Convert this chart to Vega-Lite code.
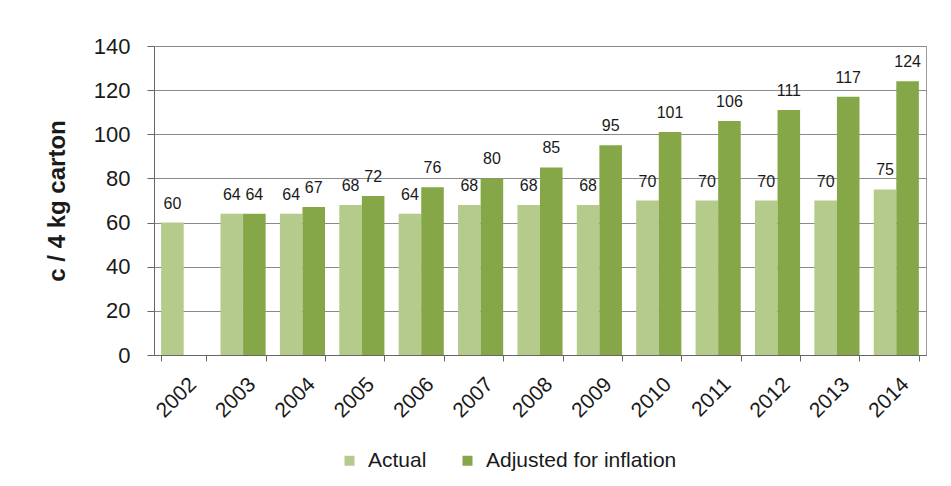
{
  "$schema": "https://vega.github.io/schema/vega-lite/v6.json",
  "width": 772,
  "height": 309,
  "autosize": "none",
  "padding": {"left": 154, "top": 46, "right": 25, "bottom": 131},
  "background": "white",
  "config": {
    "font": "Liberation Sans",
    "view": {"stroke": "#9a9a9a", "strokeWidth": 1}
  },
  "data": {
    "values": [
      {"year": "2002", "series": "Actual", "value": 60},
      {"year": "2003", "series": "Actual", "value": 64},
      {"year": "2003", "series": "Adjusted for inflation", "value": 64},
      {"year": "2004", "series": "Actual", "value": 64},
      {"year": "2004", "series": "Adjusted for inflation", "value": 67},
      {"year": "2005", "series": "Actual", "value": 68},
      {"year": "2005", "series": "Adjusted for inflation", "value": 72},
      {"year": "2006", "series": "Actual", "value": 64},
      {"year": "2006", "series": "Adjusted for inflation", "value": 76},
      {"year": "2007", "series": "Actual", "value": 68},
      {"year": "2007", "series": "Adjusted for inflation", "value": 80},
      {"year": "2008", "series": "Actual", "value": 68},
      {"year": "2008", "series": "Adjusted for inflation", "value": 85},
      {"year": "2009", "series": "Actual", "value": 68},
      {"year": "2009", "series": "Adjusted for inflation", "value": 95},
      {"year": "2010", "series": "Actual", "value": 70},
      {"year": "2010", "series": "Adjusted for inflation", "value": 101},
      {"year": "2011", "series": "Actual", "value": 70},
      {"year": "2011", "series": "Adjusted for inflation", "value": 106},
      {"year": "2012", "series": "Actual", "value": 70},
      {"year": "2012", "series": "Adjusted for inflation", "value": 111},
      {"year": "2013", "series": "Actual", "value": 70},
      {"year": "2013", "series": "Adjusted for inflation", "value": 117},
      {"year": "2014", "series": "Actual", "value": 75},
      {"year": "2014", "series": "Adjusted for inflation", "value": 124}
    ]
  },
  "encoding": {
    "x": {
      "field": "year",
      "type": "ordinal",
      "scale": {"paddingInner": 0.24, "paddingOuter": 0.12},
      "axis": {
        "title": null,
        "labelAngle": -45,
        "labelAlign": "right",
        "labelBaseline": "middle",
        "labelFontSize": 21,
        "labelColor": "#1a1a1a",
        "labelPadding": 20,
        "labelOffset": 9,
        "tickBand": "extent",
        "tickSize": 6,
        "tickColor": "#666",
        "domainColor": "#666",
        "grid": false
      }
    },
    "xOffset": {"field": "series", "type": "nominal", "sort": ["Actual", "Adjusted for inflation"]},
    "y": {
      "field": "value",
      "type": "quantitative",
      "scale": {"domain": [0, 140], "nice": false},
      "axis": {
        "title": "c / 4 kg carton",
        "titleFontSize": 24,
        "titleFontWeight": "bold",
        "titleColor": "#1a1a1a",
        "titlePadding": 24,
        "values": [0, 20, 40, 60, 80, 100, 120, 140],
        "labelFontSize": 22,
        "labelColor": "#1a1a1a",
        "labelPadding": 17,
        "tickSize": 7,
        "tickColor": "#666",
        "domainColor": "#666",
        "gridColor": "#8a8a8a",
        "gridWidth": 1
      }
    }
  },
  "layer": [
    {
      "mark": {"type": "bar"},
      "encoding": {
        "color": {
          "field": "series",
          "type": "nominal",
          "sort": ["Actual", "Adjusted for inflation"],
          "scale": {"domain": ["Actual", "Adjusted for inflation"], "range": ["#b5cb8c", "#86a747"]},
          "legend": {
            "title": null,
            "orient": "none",
            "legendX": 185,
            "legendY": 404,
            "direction": "horizontal",
            "symbolType": "square",
            "symbolSize": 100,
            "symbolStrokeWidth": 0,
            "labelFontSize": 21,
            "labelLimit": 400,
            "labelColor": "#1a1a1a",
            "labelOffset": 8,
            "columnPadding": 30
          }
        }
      }
    },
    {
      "mark": {"type": "text", "dy": -14, "baseline": "alphabetic", "fontSize": 16, "color": "#1a1a1a"},
      "encoding": {"text": {"field": "value", "type": "quantitative"}}
    }
  ]
}
